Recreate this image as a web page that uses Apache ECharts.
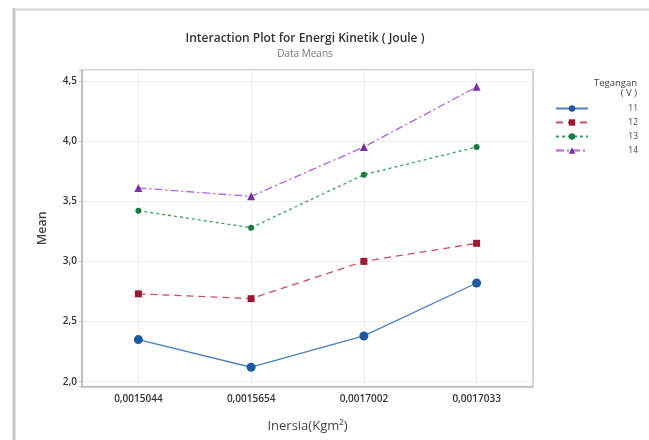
<!DOCTYPE html>
<html><head><meta charset="utf-8">
<script src="https://cdn.jsdelivr.net/npm/echarts@6/dist/echarts.min.js"></script>
<style>html,body{margin:0;padding:0;background:#fff}#c{width:649px;height:440px}</style>
</head><body><div id="c"></div>
<script>
const categories = ['0,0015044', '0,0015654', '0,0017002', '0,0017033'];
const seriesNames = ['11', '12', '13', '14'];
const v11 = [2.35, 2.12, 2.38, 2.82];
const v12 = [2.73, 2.69, 3.00, 3.15];
const v13 = [3.42, 3.28, 3.72, 3.95];
const v14 = [3.61, 3.54, 3.95, 4.45];

const FONT = 'Open Sans';
const styles = [
  {color:'#1f5aa0', line:'#4a7fc0', symbol:'circle', size:9, type:'solid'},
  {color:'#9b1b30', line:'#c9505f', symbol:'rect', size:7, type:[7,5]},
  {color:'#1a7a40', line:'#3aa05e', symbol:'circle', size:6, type:[3,3]},
  {color:'#7a2fa5', line:'#b560d8', symbol:'triangle', size:8, type:[8,3,2,3]}
];
const values = [v11, v12, v13, v14];

const chart = echarts.init(document.getElementById('c'));
chart.setOption({
  animation:false,
  title:{
    text:'Interaction Plot for Energi Kinetik ( Joule )',
    subtext:'Data Means',
    left:300, textAlign:'center', top:28,
    itemGap:4,
    textStyle:{fontFamily:FONT, fontSize:12, fontWeight:600, color:'#333'},
    subtextStyle:{fontFamily:FONT, fontSize:10, color:'#777'}
  },
  graphic:[
    {type:'line', shape:{x1:14, y1:8, x2:14, y2:440}, style:{stroke:'#c8c8c8', lineWidth:3}},
    {type:'line', shape:{x1:14, y1:9.5, x2:649, y2:9.5}, style:{stroke:'#d4d4d4', lineWidth:2}},
    {type:'text', x:637, y:78, style:{text:'Tegangan\n( V )', align:'right', fontFamily:FONT, fontSize:9.5, lineHeight:10.5, fill:'#444'}}
  ],
  legend:{
    orient:'vertical', left:550, top:99, itemWidth:32, itemHeight:8, itemGap:5,
    data:seriesNames,
    formatter: n => '{a|' + n + '}',
    textStyle:{fontFamily:FONT, fontSize:8.5, color:'#444', rich:{a:{width:45, align:'right', fontSize:8.5, fontFamily:FONT, color:'#444'}}}
  },
  grid:{left:82, right:116, top:70, bottom:53.5, show:true, borderColor:'#c4c4c4', borderWidth:1.5},
  xAxis:{
    type:'category', data:categories, boundaryGap:true,
    name:'Inersia(Kgm²)', nameLocation:'middle', nameGap:33,
    nameTextStyle:{fontFamily:FONT, fontSize:13, fontWeight:500, color:'#444'},
    axisLine:{lineStyle:{color:'#b8b8b8', width:1.5}},
    axisTick:{alignWithLabel:true, length:3, lineStyle:{color:'#b8b8b8'}},
    axisLabel:{fontFamily:FONT, fontSize:10, fontWeight:600, color:'#333', margin:8},
    splitLine:{show:true, alignWithLabel:true, lineStyle:{color:'#eeeeee'}}
  },
  yAxis:{
    type:'value', min:1.96, max:4.59, splitNumber:5,
    name:'Mean', nameLocation:'middle', nameGap:33,
    nameTextStyle:{fontFamily:FONT, fontSize:12.5, fontWeight:600, color:'#444'},
    axisLine:{show:true, lineStyle:{color:'#b8b8b8', width:1.5}},
    axisTick:{show:true, length:3, lineStyle:{color:'#b8b8b8'}},
    axisLabel:{fontFamily:FONT, fontSize:10, fontWeight:600, color:'#333', margin:5,
      formatter: v => Math.abs(v*2 - Math.round(v*2)) < 1e-6 ? v.toFixed(1).replace('.', ',') : ''},
    splitLine:{show:true, lineStyle:{color:'#eeeeee'}}
  },
  series: values.map((d, i) => ({
    name: seriesNames[i], type:'line', data:d,
    symbol: styles[i].symbol, symbolSize: styles[i].size,
    itemStyle:{color: styles[i].color},
    lineStyle:{color: styles[i].line, width:1.3, type: styles[i].type}
  }))
});
</script></body></html>
